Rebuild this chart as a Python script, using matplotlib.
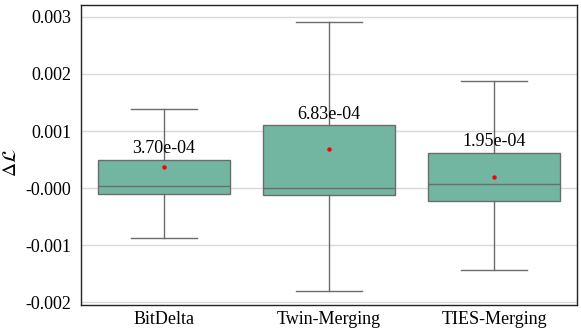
import matplotlib
matplotlib.use('Agg')
import matplotlib.pyplot as plt

methods = ['BitDelta', 'Twin-Merging', 'TIES-Merging']
q1 = [-0.00010, -0.000115, -0.000225]
median = [0.00004, 0.0, 0.000074]
q3 = [0.00050, 0.00110, 0.00062]
whisker_low = [-0.00087, -0.00180, -0.00144]
whisker_high = [0.00138, 0.00292, 0.00187]
means = [3.70e-04, 6.83e-04, 1.95e-04]

ytick_values = [-0.002, -0.001, 0.0, 0.001, 0.002, 0.003]
ytick_labels = ['-0.002', '-0.001', '-0.000', '0.001', '0.002', '0.003']

plt.rcParams['font.family'] = ['Liberation Serif', 'DejaVu Serif']
plt.rcParams['mathtext.fontset'] = 'stix'

fig = plt.figure(figsize=(5.81, 3.31), dpi=100)
ax = fig.add_axes([0.1394, 0.0785, 0.8536, 0.9065])

stats = []
for i in range(len(methods)):
    stats.append({'label': methods[i], 'q1': q1[i], 'med': median[i], 'q3': q3[i],
                  'whislo': whisker_low[i], 'whishi': whisker_high[i],
                  'mean': means[i], 'fliers': []})

line_col = '#6b6b6b'
ax.bxp(stats, positions=range(len(methods)), widths=0.8, patch_artist=True,
       showmeans=True, showfliers=False,
       boxprops=dict(facecolor='#72b6a1', edgecolor=line_col, linewidth=1),
       medianprops=dict(color=line_col, linewidth=1),
       whiskerprops=dict(color=line_col, linewidth=1),
       capprops=dict(color=line_col, linewidth=1),
       meanprops=dict(marker='o', markerfacecolor='red', markeredgecolor='red',
                      markersize=2.2))

for i in range(len(methods)):
    ax.annotate(f'{means[i]:.2e}', xy=(i, q3[i]), xytext=(0, 2),
                textcoords='offset points', ha='center', va='bottom', fontsize=13)

ax.set_xlim(-0.5, len(methods) - 0.5)
ax.set_ylim(-0.00205, 0.00321)
ax.set_yticks(ytick_values)
ax.set_yticklabels(ytick_labels)
ax.set_xticks(range(len(methods)))
ax.set_xticklabels(methods)
ax.tick_params(axis='y', length=0, labelsize=13, pad=7)
ax.tick_params(axis='x', length=0, labelsize=13, pad=4)
ax.grid(axis='y', color='#d9d9d9', linewidth=1)
ax.set_axisbelow(True)
for s in ax.spines.values():
    s.set_color('#222222')
    s.set_linewidth(1)
ax.set_ylabel(r'$\Delta\mathcal{L}$', fontsize=14)
ax.yaxis.set_label_coords(-0.123, 0.475)

fig.savefig('out.png', dpi=100)
